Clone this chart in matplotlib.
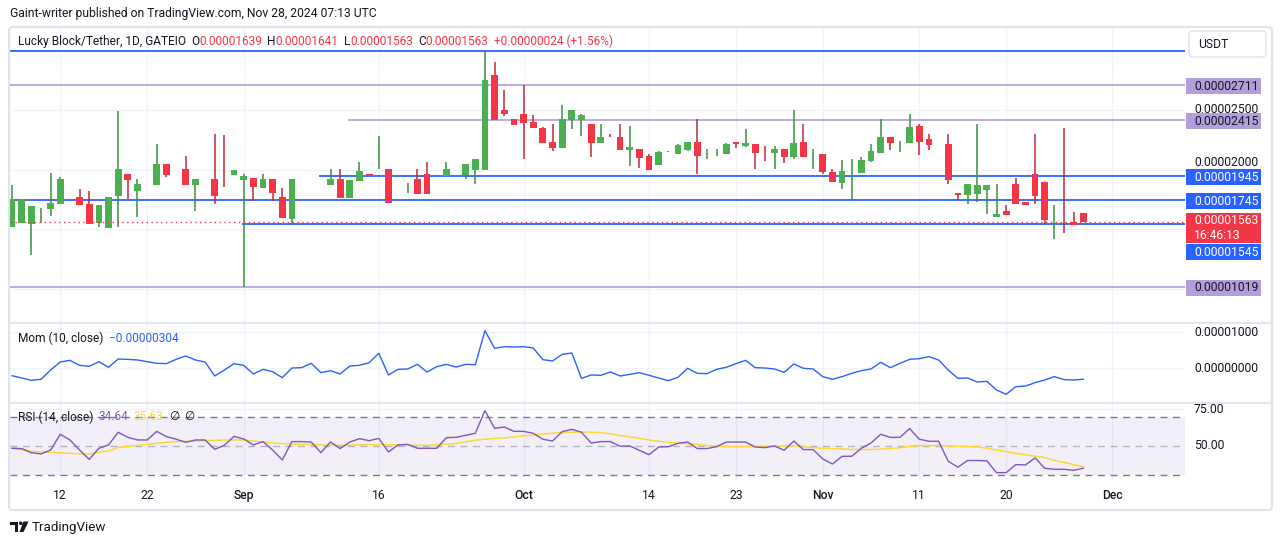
import matplotlib
matplotlib.use('Agg')
import matplotlib.pyplot as plt
import matplotlib.transforms as mtransforms
from matplotlib.patches import FancyBboxPatch, Rectangle, Polygon, Circle
import numpy as np

plt.rcParams['font.family'] = ['Roboto', 'DejaVu Sans']

# ---------------- DATA (prices in units of 1e-8 USDT) ----------------
opens = [1523, 1556, 1548, 1676, 1674, 1716, 1855, 1772, 1713, 1556,
         1514, 1783, 1964, 1825, 1878, 1875, 2048, 1923, 2006, 1875,
         1923, 1923, 1856, 1959, 1917, 1931, 1850, 1923, 1772, 1587,
         1920, 1920, 1711, 1875, 1923, 1766, 1909, 1964, 2005, 2006,
         1883, 1885, 1923, 1964, 1802, 1948, 2006, 1959, 2001, 2001,
         2795, 2501, 2426, 2468, 2401, 2350, 2233, 2185, 2420, 2420,
         2384, 2227, 2273, 2275, 2169, 2174, 2115, 2043, 2147, 2135,
         2169, 2233, 2124, 2138, 2135, 2233, 2202, 2216, 2158, 2143,
         2174, 2110, 2233, 2112, 2132, 1981, 1892, 1986, 1976, 2076,
         2143, 2275, 2233, 2227, 2367, 2258, 2213, 2216, 1805, 1791,
         1800, 1833, 1607, 1651, 1881, 1730, 1964, 1897, 1558, 1560,
         1565, 1639]
highs = [1872, 1758, 1696, 1677, 1973, 1939, 1856, 1839, 1822, 1704,
         1772, 2496, 1964, 1923, 1879, 2216, 2048, 1924, 2115, 1923,
         1924, 2300, 2289, 1998, 1962, 1931, 1964, 1923, 1850, 1923,
         1921, 1921, 1711, 2006, 2006, 1914, 2065, 1964, 2283, 2006,
         1884, 1886, 2006, 2065, 1803, 2065, 2007, 2048, 2090, 2988,
         2904, 2669, 2426, 2711, 2457, 2359, 2384, 2543, 2501, 2468,
         2384, 2384, 2300, 2384, 2367, 2174, 2129, 2157, 2157, 2216,
         2233, 2426, 2174, 2174, 2225, 2233, 2342, 2216, 2199, 2199,
         2174, 2501, 2384, 2174, 2132, 2006, 2082, 2090, 2107, 2216,
         2426, 2275, 2241, 2468, 2384, 2300, 2214, 2300, 1805, 1881,
         2384, 1872, 1881, 1707, 1934, 1730, 2300, 1897, 1707, 2350,
         1649, 1641]
lows = [1517, 1551, 1288, 1556, 1615, 1716, 1855, 1707, 1548, 1523,
        1514, 1523, 1758, 1607, 1878, 1875, 1942, 1923, 1875, 1657,
        1923, 1716, 1855, 1959, 1015, 1741, 1850, 1741, 1598, 1554,
        1920, 1920, 1710, 1875, 1766, 1766, 1909, 1948, 2005, 1724,
        1883, 1808, 1800, 1800, 1802, 1948, 2006, 1925, 1883, 2001,
        2417, 2454, 2378, 2093, 2353, 2227, 2160, 2185, 2345, 2286,
        2110, 2227, 2272, 2169, 2034, 2018, 2001, 2043, 2146, 2135,
        2155, 1967, 2090, 2118, 2135, 2180, 2194, 2009, 2071, 2009,
        2054, 2093, 2110, 2009, 1967, 1900, 1841, 1758, 1976, 2068,
        2143, 2166, 2152, 2227, 2124, 2166, 2213, 1883, 1746, 1716,
        1732, 1632, 1607, 1623, 1716, 1707, 1716, 1542, 1422, 1472,
        1539, 1563]
closes = [1752, 1752, 1696, 1677, 1721, 1923, 1856, 1707, 1548, 1704,
          1772, 2006, 1917, 1881, 1879, 2048, 1959, 1924, 1875, 1923,
          1924, 1783, 1855, 1998, 1948, 1858, 1923, 1808, 1598, 1923,
          1921, 1921, 1710, 1923, 1766, 1914, 1990, 1948, 2006, 1724,
          1884, 1886, 1800, 1800, 1803, 2006, 2007, 2048, 2090, 2753,
          2417, 2471, 2378, 2395, 2353, 2227, 2183, 2426, 2501, 2459,
          2227, 2275, 2272, 2169, 2191, 2101, 2001, 2149, 2146, 2208,
          2233, 2118, 2125, 2139, 2216, 2216, 2225, 2143, 2157, 2174,
          2104, 2225, 2110, 2113, 1984, 1900, 1990, 1987, 2082, 2157,
          2275, 2227, 2234, 2359, 2236, 2211, 2214, 1917, 1791, 1881,
          1872, 1872, 1629, 1623, 1716, 1707, 1783, 1581, 1559, 1559,
          1539, 1563]

# Momentum (10, close) in units of 1e-6
momentum = [-2.05, -2.69, -3.34, -3.06, -0.47, 1.75, 2.21, 0.82, 0.55, 1.84,
            0.27, 2.58, 2.49, 2.31, 1.84, 1.38, 1.29, 2.49, 3.42, 2.31,
            1.75, -2.14, -0.47, 1.29, 0.82, -1.58, -0.29, -0.94, -2.60, 0.08,
            0.18, 1.38, -1.21, -0.66, -1.58, 0.64, 0.82, 1.56, 4.16, -1.86,
            -0.29, -0.19, 1.10, -1.03, 0.45, 1.10, 0.36, 1.10, 0.99, 10.45,
            5.55, 6.01, 5.92, 6.01, 5.64, 2.40, 2.03, 3.88, 4.25, -2.79,
            -1.86, -1.95, -1.03, -2.14, -1.68, -1.21, -1.95, -2.69, -3.44, -2.51,
            0.00, -1.40, -1.49, -0.29, 0.27, 1.29, 2.21, 0.18, 0.08, -0.19,
            -1.12, 1.20, -0.01, -0.19, -2.32, -3.06, -2.32, -1.40, -0.66, -0.19,
            1.66, 0.18, 1.38, 2.49, 2.68, 3.23, 2.31, -0.47, -2.79, -2.69,
            -3.81, -3.62, -6.03, -7.23, -5.10, -4.92, -3.99, -3.25, -2.32, -3.15,
            -3.25, -3.04]

rsi = [48.3, 48.1, 45.3, 44.4, 47.1, 57.9, 54.0, 47.1, 40.7, 48.3,
       50.6, 59.3, 55.8, 54.0, 54.0, 59.9, 56.3, 54.5, 52.4, 54.0,
       54.0, 47.6, 50.3, 56.5, 54.7, 50.6, 52.9, 47.1, 40.3, 52.9,
       52.9, 52.6, 45.3, 52.6, 48.1, 52.6, 54.9, 53.5, 55.1, 45.8,
       50.6, 51.0, 48.3, 48.3, 48.3, 55.6, 55.8, 57.2, 58.6, 74.1,
       62.0, 62.9, 59.9, 59.9, 58.6, 54.5, 53.3, 59.7, 61.3, 59.3,
       51.9, 52.9, 52.9, 49.7, 49.9, 46.9, 43.9, 49.2, 49.4, 51.7,
       52.6, 48.1, 48.1, 49.4, 52.6, 52.6, 52.6, 49.2, 48.7, 49.9,
       46.9, 53.3, 47.4, 47.4, 41.0, 37.5, 42.8, 42.8, 48.3, 51.9,
       57.9, 55.8, 55.8, 61.8, 54.5, 53.1, 53.1, 39.4, 35.3, 39.9,
       39.9, 39.7, 31.6, 31.6, 37.1, 36.9, 41.7, 34.6, 33.9, 33.9,
       33.2, 34.64]

rsi_ma = [48.3, 47.2, 46.2, 45.8, 45.5, 45.2, 44.9, 44.3, 44.4, 45.5,
          46.5, 48.8, 49.6, 50.3, 51.0, 51.7, 52.4, 52.8, 53.1, 53.3,
          53.5, 53.7, 54.0, 54.0, 54.0, 53.3, 52.5, 52.0, 51.6, 51.2,
          51.0, 50.9, 50.7, 50.5, 50.3, 50.5, 50.8, 50.8, 50.8, 50.7,
          50.7, 50.5, 50.4, 50.3, 50.7, 51.1, 51.5, 52.8, 53.8, 54.5,
          55.0, 55.4, 56.1, 56.8, 57.4, 58.0, 58.7, 59.1, 59.3, 59.5,
          59.3, 59.0, 58.3, 57.0, 56.2, 55.1, 54.0, 53.1, 52.4, 51.9,
          51.4, 50.9, 50.2, 49.8, 49.5, 49.4, 49.4, 49.5, 49.6, 49.7,
          49.9, 49.9, 49.4, 48.8, 48.3, 48.0, 47.8, 47.5, 47.4, 47.4,
          47.7, 48.1, 48.7, 49.6, 50.1, 50.2, 50.2, 49.9, 49.6, 49.4,
          49.3, 48.3, 47.1, 46.0, 44.8, 43.8, 42.9, 41.9, 40.0, 38.6,
          37.1, 35.63]

tick_index = [5, 14, 24, 38, 53, 66, 75, 84, 94, 103, 114]
tick_labels = ['12', '22', 'Sep', '16', 'Oct', '14', '23', 'Nov', '11', '20', 'Dec']
month_labels = {'Sep', 'Oct', 'Nov', 'Dec'}

# user-drawn horizontal levels: (price, color, start bar index or None)
level_prices = [3000, 2711, 2415, 1945, 1745, 1545, 1019]
level_colors = ['blue', 'purple', 'purple', 'blue', 'blue', 'blue', 'purple']
level_starts = [None, None, 34.8, 31.8, None, 23.8, None]

S = 1e-8
MS = 1e-6
# ---------------------------------------------------------------------

W, H = 1281, 545
fig = plt.figure(figsize=(W / 100, H / 100), dpi=100)
fig.patch.set_facecolor('white')

DARK = '#131722'
GRID = '#f0f3fa'
BORDER = '#e0e3eb'
GREEN = '#4caf50'
RED = '#f23645'
GWICK = '#3b8f3f'
RWICK = '#c0283a'
BLUE = '#2962ff'
PURPLE_LINE = '#b39ddb'
PURPLE_BOX = '#b39ddb'
RSI_C = '#7e57c2'
MA_C = '#fdd835'

L_PX, R_PX = 10, 1185


def fx(px):
    return px / W


def fy(py):
    return 1 - py / H


def pane(top, bot):
    a = fig.add_axes([fx(L_PX), fy(bot), (R_PX - L_PX) / W, (bot - top) / H])
    for s in a.spines.values():
        s.set_visible(False)
    a.set_xticks([])
    a.set_yticks([])
    a.set_facecolor('none')
    return a


n = len(closes)
x = np.arange(n)
o = np.array(opens) * S
h = np.array(highs) * S
l = np.array(lows) * S
c = np.array(closes) * S

XL = (-0.21, 121.53)

ax = pane(28, 322.5)
ax.set_xlim(*XL)
ax.set_ylim(718.6 * S, 3189.2 * S)
axm = pane(322.5, 402.5)
axm.set_xlim(*XL)
axm.set_ylim(-0.95e-5, 1.2722e-5)
axr = pane(402.5, 481)
axr.set_xlim(*XL)
axr.set_ylim(25.86, 79.70)

# grid
for a in (ax, axm, axr):
    for ti in tick_index:
        a.axvline(ti, color=GRID, lw=1, zorder=0)
for gp in [1000, 1500, 2000, 2500, 3000]:
    ax.axhline(gp * S, color=GRID, lw=1, zorder=0)
for gm in [0.0, 1e-5]:
    axm.axhline(gm, color=GRID, lw=1, zorder=0)
axr.axhline(75, color=GRID, lw=1, zorder=0)

# levels
for p, col, st in zip(level_prices, level_colors, level_starts):
    cc = BLUE if col == 'blue' else PURPLE_LINE
    x0 = XL[0] if st is None else st
    ax.hlines(p * S, x0, XL[1], color=cc, lw=1.3 if col == 'blue' else 1.2, zorder=1)

# candles
up = c >= o
body_col = np.where(up, GREEN, RED)
wick_col = np.where(up, GWICK, RWICK)
ax.vlines(x, l, h, colors=wick_col, lw=1.1, zorder=2)
bot = np.minimum(o, c)
ht = np.maximum(np.abs(c - o), 1.3 * S)
ax.bar(x, ht, bottom=bot, width=0.7, color=body_col, linewidth=0, zorder=3)

# current price dotted line
ax.axhline(c[-1], color=RED, lw=1, ls=(0, (1, 2.5)), zorder=4)

# momentum
axm.plot(x, np.array(momentum) * MS, color=BLUE, lw=1.0, zorder=3)

# RSI
axr.axhspan(30, 70, color='#7e57c2', alpha=0.09, lw=0, zorder=0)
axr.axhline(70, color='#787b86', lw=1, ls=(0, (5, 4)), zorder=1)
axr.axhline(30, color='#787b86', lw=1, ls=(0, (5, 4)), zorder=1)
axr.axhline(50, color='#787b86', lw=1, ls=(0, (5, 4)), alpha=0.5, zorder=1)
axr.plot(x, rsi_ma, color=MA_C, lw=1.1, zorder=2)
axr.plot(x, rsi, color=RSI_C, lw=1.0, zorder=3)

# ---------------- frame & separators (pixel coords) ----------------
pix = mtransforms.Affine2D().scale(1, -1).translate(0, H)

frame = FancyBboxPatch((9, 27), 1263, 483, boxstyle='round,pad=0,rounding_size=4',
                       fc='none', ec=BORDER, lw=1.5, transform=pix, zorder=10)
fig.patches.append(frame)
for yy in (322.5, 402.5):
    fig.add_artist(plt.Line2D([9, 1272], [yy, yy], color=BORDER, lw=1.3, transform=pix))


def ypx(a, v):
    return H - a.transData.transform((0, v))[1]


# time axis labels
for ti, lab in zip(tick_index, tick_labels):
    xp = ax.transData.transform((ti, 0))[0]
    fig.text(xp / W, fy(495.5), lab, ha='center', va='center', fontsize=8.7, color=DARK,
             fontweight='medium' if lab in month_labels else 'normal')

# right price-scale plain labels (partly hidden behind level boxes as in TradingView)
AXX = 1194
fig.text(fx(AXX), fy(ypx(ax, 2500 * S) - 1), '0.%08d' % 2500, ha='left', va='center',
         fontsize=8.7, color=DARK, zorder=5)
fig.text(fx(AXX), fy(ypx(ax, 2000 * S) - 7), '0.%08d' % 2000, ha='left', va='center',
         fontsize=8.7, color=DARK, zorder=5)
for gm, lab in [(1e-5, '0.00001000'), (0.0, '0.00000000')]:
    fig.text(fx(AXX), fy(ypx(axm, gm)), lab, ha='left', va='center', fontsize=8.7, color=DARK)
for gr, lab in [(75, '75.00'), (50, '50.00')]:
    fig.text(fx(AXX), fy(ypx(axr, gr)), lab, ha='left', va='center', fontsize=8.7, color=DARK)


def box_label(yc, text, fc, tc, hgt=16):
    r = Rectangle((1186, yc - hgt / 2), 75, hgt, fc=fc, ec='none', transform=pix, zorder=20)
    fig.patches.append(r)
    fig.text(fx(AXX), fy(yc), text, ha='left', va='center', fontsize=8.7, color=tc, zorder=21)


for p, col in zip(level_prices[1:], level_colors[1:]):
    if p in (1545,):
        continue
    yc = ypx(ax, p * S) + 1
    if col == 'blue':
        box_label(yc, '0.%08d' % p, BLUE, 'white')
    else:
        box_label(yc, '0.%08d' % p, PURPLE_BOX, DARK)

# current price label (two lines) and pushed 1545 label
yc_cur = ypx(ax, c[-1])
rr = Rectangle((1186, yc_cur - 9), 75, 30, fc=RED, ec='none', transform=pix, zorder=20)
fig.patches.append(rr)
fig.text(fx(AXX), fy(yc_cur - 1), '0.%08d' % closes[-1], ha='left', va='center', fontsize=8.7,
         color='white', zorder=21)
fig.text(fx(AXX), fy(yc_cur + 13.5), '16:46:13', ha='left', va='center', fontsize=8.7,
         color='white', zorder=21)
box_label(yc_cur + 30.5, '0.%08d' % level_prices[5], BLUE, 'white')

# USDT button
ub = FancyBboxPatch((1189, 31), 77, 26, boxstyle='round,pad=0,rounding_size=4',
                    fc='white', ec=BORDER, lw=1, transform=pix, zorder=22)
fig.patches.append(ub)
fig.text(fx(1198), fy(44.5), 'USDT', ha='left', va='center', fontsize=8.7, color=DARK, zorder=23)

# ---------------- header & legends ----------------
fig.text(fx(10), fy(14), 'Gaint-writer published on TradingView.com, Nov 28, 2024 07:13 UTC',
         ha='left', va='center', fontsize=8.7, color=DARK)

renderer = fig.canvas.get_renderer()


def seq(x0, yc, parts, fs=8.6):
    xp = x0
    for txt, col, gap in parts:
        t = fig.text(fx(xp), fy(yc), txt, ha='left', va='center', fontsize=fs, color=col, zorder=30)
        bb = t.get_window_extent(renderer)
        xp = bb.x1 + gap
    return xp


seq(18, 41.5, [('Lucky Block/Tether, 1D, GATEIO', DARK, 5),
               ('O', DARK, 0), ('0.%08d' % opens[-1], RED, 5),
               ('H', DARK, 0), ('0.%08d' % highs[-1], RED, 5),
               ('L', DARK, 0), ('0.%08d' % lows[-1], RED, 5),
               ('C', DARK, 0), ('0.%08d' % closes[-1], RED, 5),
               ('+0.%08d (+1.56%%)' % (closes[-1] - closes[-2]), RED, 0)])

seq(18, 338, [('Mom (10, close)', DARK, 6),
              ('\u22120.%08d' % round(-momentum[-1] * 100), BLUE, 0)])

seq(18, 417, [('RSI (14, close)', DARK, 5),
              ('%.2f' % rsi[-1], RSI_C, 5),
              ('%.2f' % rsi_ma[-1], MA_C, 6),
              ('\u2205', DARK, 5),
              ('\u2205', DARK, 0)])

# ---------------- TradingView logo ----------------
logo_parts = [
    Polygon([(10, 521.5), (18, 521.5), (18, 532), (14.5, 532), (14.5, 525), (10, 525)], closed=True),
    Circle((20.8, 523.3), 1.8),
    Polygon([(23.5, 521.5), (28.5, 521.5), (23.5, 532), (19.5, 532)], closed=True),
]
for pp in logo_parts:
    pp.set_transform(pix)
    pp.set_facecolor(DARK)
    pp.set_edgecolor('none')
    fig.patches.append(pp)
fig.text(fx(32), fy(527), 'TradingView', ha='left', va='center', fontsize=9.6, color=DARK)

fig.savefig('out.png', dpi=100, facecolor='white')
